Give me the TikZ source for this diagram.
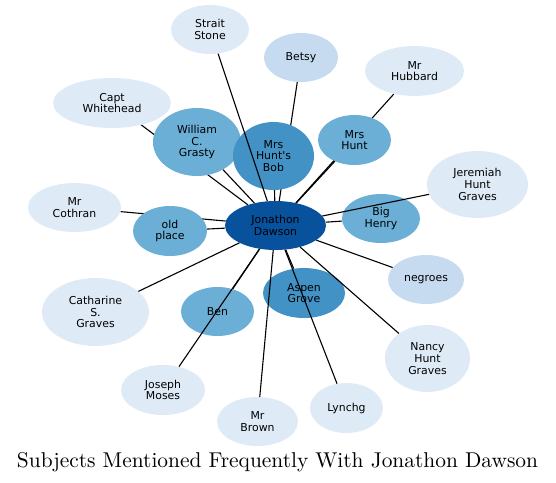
\documentclass[tikz,border=0pt]{standalone}
\usepackage{graphicx}
\usepackage{fontspec}
\newfontfamily\nodefont{DejaVu Sans}[Ligatures=TeXOff]
\usetikzlibrary{shapes.geometric,backgrounds}
\definecolor{cA}{HTML}{08519C}
\definecolor{cB}{HTML}{4292C6}
\definecolor{cC}{HTML}{6BAED6}
\definecolor{cD}{HTML}{C6DBEF}
\definecolor{cE}{HTML}{DEEBF7}
\begin{document}
\begin{tikzpicture}[x=1pt,y=-1pt,
  nd/.style={ellipse, inner sep=0pt, draw=none, align=center, text=black,
    font=\nodefont\fontsize{10.9}{11.7}\selectfont},
  sz/.style 2 args={minimum width=#1pt, minimum height=#2pt},
  ed/.style={line width=1.1pt, black}]
\useasboundingbox (0,0) rectangle (556,482);
% nodes
\node[nd, fill=cE, sz={78}{49}]  (ss)  at (210,29.5)   {Strait\\Stone};
\node[nd, fill=cE, sz={118}{50}] (cw)  at (112,103)    {Capt\\Whitehead};
\node[nd, fill=cC, sz={88}{68}]  (wcg) at (197,142)    {William\\C.\\Grasty};
\node[nd, fill=cE, sz={93}{49}]  (mc)  at (74.5,207.5) {Mr\\Cothran};
\node[nd, fill=cC, sz={74}{50}]  (op)  at (170,231)    {old\\place};
\node[nd, fill=cB, sz={81}{68}]  (mhb) at (273.5,156)  {Mrs\\Hunt's\\Bob};
\node[nd, fill=cD, sz={74}{49}]  (bt)  at (301,57.5)   {Betsy};
\node[nd, fill=cE, sz={99}{50}]  (mhu) at (414.5,71)   {Mr\\Hubbard};
\node[nd, fill=cC, sz={73}{50}]  (mh)  at (354.5,140)  {Mrs\\Hunt};
\node[nd, fill=cE, sz={101}{67}] (jhg) at (477.5,184.5){Jeremiah\\Hunt\\Graves};
\node[nd, fill=cC, sz={78}{49}]  (bh)  at (381,218.5)  {Big\\Henry};
\node[nd, fill=cA, sz={101}{49}] (jd)  at (275.5,225.5){Jonathon\\Dawson};
\node[nd, fill=cD, sz={76}{49}]  (ng)  at (426,279.5)  {negroes};
\node[nd, fill=cB, sz={82}{50}]  (ag)  at (304,293)    {Aspen\\Grove};
\node[nd, fill=cC, sz={73}{49}]  (ben) at (217.5,311.5){Ben};
\node[nd, fill=cE, sz={107}{68}] (csg) at (95.5,312)   {Catharine\\S.\\Graves};
\node[nd, fill=cE, sz={85}{67}]  (nhg) at (427.5,358.5){Nancy\\Hunt\\Graves};
\node[nd, fill=cE, sz={84}{50}]  (jm)  at (163,390)    {Joseph\\Moses};
\node[nd, fill=cE, sz={81}{49}]  (mb)  at (257.5,421.5){Mr\\Brown};
\node[nd, fill=cE, sz={73}{50}]  (ly)  at (346.5,408)  {Lynchg};
% edges hidden beneath nodes
\begin{pgfonlayer}{background}
\draw[ed] (bt) -- (jd);
\draw[ed] (cw) -- (jd);
\draw[ed] (mc) -- (jd);
\draw[ed] (mhu) -- (jd);
\draw[ed] (ben) -- (jd);
\draw[ed] (ag) -- (jd);
\end{pgfonlayer}
% edges drawn over nodes
\draw[ed] (wcg) -- (jd);
\draw[ed] (op) -- (jd);
\draw[ed] (mhb) -- (jd);
\draw[ed] (mh) -- (jd);
\draw[ed] (bh) -- (jd);
\draw[ed] (ng) -- (jd);
\draw[ed] (csg) -- (jd);
\draw[ed] (nhg) -- (jd);
\draw[ed] (mb) -- (jd);
\draw[ed] (ss) -- (jd);
\draw[ed] (jm) -- (jd);
\draw[ed] (ly) -- (jd);
\draw[ed] (jhg) -- (jd);
% title
\node[anchor=base, inner sep=0pt] (title) at (277.5,467)
  {\resizebox{521pt}{!}{Subjects Mentioned Frequently With Jonathon Dawson}};
\end{tikzpicture}
\end{document}
